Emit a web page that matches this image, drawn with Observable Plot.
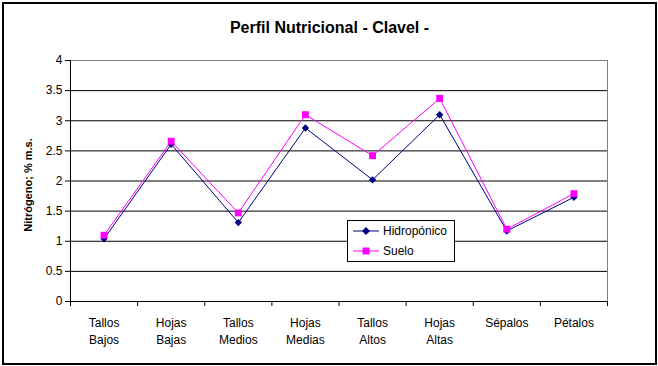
<!DOCTYPE html>
<html>
<head>
<meta charset="utf-8">
<script src="https://cdn.jsdelivr.net/npm/d3@7"></script>
<script src="https://cdn.jsdelivr.net/npm/@observablehq/plot@0.6"></script>
<style>
  html, body { margin: 0; padding: 0; background: #fff; }
  #wrap { position: relative; width: 658px; height: 366px; font-family: "Liberation Sans", Arial, sans-serif; overflow: hidden; }
  #frame { position: absolute; left: 2px; top: 2px; width: 651px; height: 359px; border: 2px solid #000; }
  #title { position: absolute; left: 2px; width: 655px; top: 19px; text-align: center; font-weight: bold; font-size: 16px; }
  #ylabel { position: absolute; left: 28px; top: 185px; transform: translate(-50%, -50%) rotate(-90deg); font-weight: bold; font-size: 11px; white-space: nowrap; }
  #chart { position: absolute; left: 0; top: 0; }
  #legend { position: absolute; left: 347px; top: 220px; width: 106px; height: 40px; border: 1px solid #000; background: #fff; font-size: 12px; }
  .row { position: absolute; left: 0; height: 20px; display: flex; align-items: center; }
  .row svg { margin-left: 5px; margin-right: 4px; }
</style>
</head>
<body>
<div id="wrap">
  <div id="frame"></div>
  <div id="chart"></div>
  <div id="title">Perfil Nutricional - Clavel -</div>
  <div id="ylabel">Nitrógeno; % m.s.</div>
  <div id="legend"></div>
</div>
<script>
const categories = ["Tallos\nBajos", "Hojas\nBajas", "Tallos\nMedios", "Hojas\nMedias", "Tallos\nAltos", "Hojas\nAltas", "Sépalos", "Pétalos"];
const hidroponico = [1.04, 2.61, 1.31, 2.88, 2.02, 3.10, 1.17, 1.73];
const suelo = [1.10, 2.66, 1.47, 3.10, 2.42, 3.37, 1.20, 1.79];
const yTicks = [0, 0.5, 1, 1.5, 2, 2.5, 3, 3.5, 4];
const seriesNames = ["Hidropónico", "Suelo"];
const seriesColors = ["#000080", "#FF00FF"];

const hData = categories.map((c, i) => ({ i: i + 0.5, v: hidroponico[i] }));
const sData = categories.map((c, i) => ({ i: i + 0.5, v: suelo[i] }));
const n = categories.length;

const chart = Plot.plot({
  width: 658,
  height: 366,
  marginLeft: 70,
  marginRight: 51,
  marginTop: 60,
  marginBottom: 65,
  x: { domain: [0, n] },
  y: { domain: [0, 4] },
  style: { fontFamily: "'Liberation Sans', Arial, sans-serif", fontSize: "12px", color: "#000", background: "transparent", overflow: "visible" },
  marks: [
    Plot.ruleY(yTicks.filter(t => t > 0 && t < 4), { stroke: "#000", strokeWidth: 1 }),
    Plot.ruleY([4], { stroke: "#808080" }),
    Plot.ruleX([n], { stroke: "#808080" }),
    Plot.axisY({ ticks: yTicks, tickSize: 5, tickPadding: 3, tickFormat: d => String(d), label: null, stroke: "#000" }),
    Plot.axisX({ ticks: d3.range(n + 1), tickSize: 5, tickFormat: () => "", label: null, stroke: "#000" }),
    Plot.axisX({ ticks: d3.range(n).map(i => i + 0.5), tickSize: 0, tickPadding: 13, tickFormat: d => categories[Math.floor(d)], label: null, lineHeight: 1.42 }),
    Plot.ruleX([0], { stroke: "#000" }),
    Plot.ruleY([0], { stroke: "#000" }),
    Plot.line(hData, { x: "i", y: "v", stroke: seriesColors[0], strokeWidth: 1 }),
    Plot.line(sData, { x: "i", y: "v", stroke: seriesColors[1], strokeWidth: 1 }),
    Plot.dot(hData, { x: "i", y: "v", symbol: "diamond2", r: 3.3, fill: seriesColors[0], stroke: "none" }),
    Plot.dot(sData, { x: "i", y: "v", symbol: "square", r: 3.9, fill: seriesColors[1], stroke: "none" })
  ]
});
document.getElementById("chart").appendChild(chart);

const legend = document.getElementById("legend");
const symbols = [
  '<polygon points="13,1 17,5 13,9 9,5" fill="#000080"/>',
  '<rect x="9.5" y="1.5" width="7" height="7" fill="#FF00FF"/>'
];
seriesNames.forEach((name, k) => {
  const row = document.createElement("div");
  row.className = "row";
  row.style.top = (k * 20) + "px";
  row.innerHTML = `<svg width="26" height="10"><line x1="0" x2="26" y1="5" y2="5" stroke="${seriesColors[k]}" stroke-width="1"/>${symbols[k]}</svg><span>${name}</span>`;
  legend.appendChild(row);
});
</script>
</body>
</html>
